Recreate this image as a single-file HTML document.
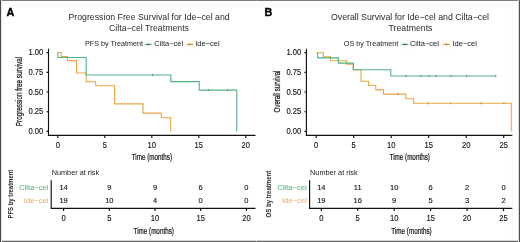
<!DOCTYPE html>
<html><head><meta charset="utf-8">
<style>
html,body{margin:0;padding:0;background:#fff;}
body{width:520px;height:242px;overflow:hidden;position:relative;}
svg{position:absolute;left:0;top:0;will-change:transform;}
text{font-family:"Liberation Sans",sans-serif;fill:#1a1a1a;}
.t{font-size:8.75px;fill:#2a2a2a;}
.lg{font-size:7.2px;fill:#222;}
.tk{font-size:8.2px;fill:#111;stroke:#111;stroke-width:0.12px;}
.axb{font-size:9.2px;fill:#111;stroke:#111;stroke-width:0.22px;}
.tb{font-size:8px;font-weight:bold;fill:#2a2a2a;}
.ll{font-size:7.5px;fill:#222;}
.nr{font-size:7.3px;fill:#222;}
.lb{font-size:10.8px;font-weight:bold;fill:#000;stroke:#000;stroke-width:0.35px;}
.num{font-size:7.9px;fill:#111;stroke:#111;stroke-width:0.12px;}
.rg{font-size:7.55px;fill:#6cbf8c;stroke:#6cbf8c;stroke-width:0.15px;}
.ro{font-size:7.55px;fill:#efb670;stroke:#efb670;stroke-width:0.15px;}
</style></head>
<body>
<svg width="520" height="242" viewBox="0 0 520 242">
<rect x="0" y="0" width="520" height="242" fill="#fff"/>
<text class="lb" x="6.6" y="15.5">A</text>
<text class="t" x="149.1" y="19.8" text-anchor="middle">Progression Free Survival for Ide−cel and</text>
<text class="t" x="149" y="30.8" text-anchor="middle">Cilta−cel Treatments</text>
<text class="lg" x="85" y="46.2">PFS by Treatment</text>
<rect x="144" y="40.2" width="8.6" height="8.2" fill="#f6fcf7"/>
<line x1="145.3" y1="44.4" x2="151.4" y2="44.4" stroke="#3a7a55" stroke-width="1"/>
<line x1="148.35" y1="43.4" x2="148.35" y2="45.4" stroke="#2a5a40" stroke-width="0.8"/>
<rect x="185.6" y="40.2" width="8.6" height="8.2" fill="#fffaf1"/>
<line x1="186.9" y1="44.4" x2="193" y2="44.4" stroke="#c08a48" stroke-width="1"/>
<line x1="189.95" y1="43.4" x2="189.95" y2="45.4" stroke="#8a6a40" stroke-width="0.8"/>
<text class="ll" x="154.2" y="46.3">Cilta−cel</text>
<text class="ll" x="195.2" y="46.3">Ide−cel</text>
<path d="M48.5,48.7 V135.4 H255.5 M46.5,52.6 H48.5 M46.5,72.3 H48.5 M46.5,92 H48.5 M46.5,111.7 H48.5 M46.5,131.4 H48.5 M57.8,135.4 V137.9 M104.8,135.4 V137.9 M151.8,135.4 V137.9 M198.8,135.4 V137.9 M245.8,135.4 V137.9" stroke="#111" stroke-width="1.15" fill="none"/>
<text class="tk" text-anchor="end" transform="translate(43.3,55.35) scale(0.93,1)">1.00</text>
<text class="tk" text-anchor="end" transform="translate(43.3,75.05) scale(0.93,1)">0.75</text>
<text class="tk" text-anchor="end" transform="translate(43.3,94.75) scale(0.93,1)">0.50</text>
<text class="tk" text-anchor="end" transform="translate(43.3,114.45) scale(0.93,1)">0.25</text>
<text class="tk" text-anchor="end" transform="translate(43.3,134.15) scale(0.93,1)">0.00</text>
<text class="tk" text-anchor="middle" transform="translate(57.8,147.9) scale(0.93,1)">0</text>
<text class="tk" text-anchor="middle" transform="translate(104.8,147.9) scale(0.93,1)">5</text>
<text class="tk" text-anchor="middle" transform="translate(151.8,147.9) scale(0.93,1)">10</text>
<text class="tk" text-anchor="middle" transform="translate(198.8,147.9) scale(0.93,1)">15</text>
<text class="tk" text-anchor="middle" transform="translate(245.8,147.9) scale(0.93,1)">20</text>
<text class="axb" text-anchor="middle" transform="translate(151.9,160.3) scale(0.686,1)">Time (months)</text>
<text class="axb" text-anchor="middle" transform="translate(22,91.5) rotate(-90) scale(0.685,1)">Progression free survival</text>
<g fill="none" stroke-width="1.1">
<path stroke="#E6A745" d="M57.8,52.5 H61.2 V56.6 H67.4 V60.6 H76.5 V73 H86.2 V81.7 H95.7 V85.7 H114.6 V103.9 H143 V113.1 H161.3 V117.7 H170.7 V131.4"/>
<path stroke="#52B283" d="M57.8,52.5 V57.5 H86.2 V75.0 H170.8 V81.6 H199.2 V90.1 H236.8 V131.4"/>
</g>
<path stroke="#4a8a68" stroke-width="0.8" d="M152.5,73.9 V76.1 M208.6,89 V91.2 M227.5,89 V91.2"/>
<text class="nr" x="51.7" y="175">Number at risk</text>
<path d="M51.2,180.3 V208.3 H255.5 M63.6,208.3 V210.9 M109.3,208.3 V210.9 M155,208.3 V210.9 M200.7,208.3 V210.9 M246.4,208.3 V210.9" stroke="#111" stroke-width="1.15" fill="none"/>
<text class="rg" x="48.4" y="189.5" text-anchor="end">Cilta−cel</text>
<text class="ro" x="48.4" y="203.1" text-anchor="end">Ide−cel</text>
<text class="num" text-anchor="middle" transform="translate(63.6,189.5) scale(0.95,1)">14</text>
<text class="num" text-anchor="middle" transform="translate(63.6,203.2) scale(0.95,1)">19</text>
<text class="tk" text-anchor="middle" transform="translate(63.6,220.9) scale(0.93,1)">0</text>
<text class="num" text-anchor="middle" transform="translate(109.3,189.5) scale(0.95,1)">9</text>
<text class="num" text-anchor="middle" transform="translate(109.3,203.2) scale(0.95,1)">10</text>
<text class="tk" text-anchor="middle" transform="translate(109.3,220.9) scale(0.93,1)">5</text>
<text class="num" text-anchor="middle" transform="translate(155,189.5) scale(0.95,1)">9</text>
<text class="num" text-anchor="middle" transform="translate(155,203.2) scale(0.95,1)">4</text>
<text class="tk" text-anchor="middle" transform="translate(155,220.9) scale(0.93,1)">10</text>
<text class="num" text-anchor="middle" transform="translate(200.7,189.5) scale(0.95,1)">6</text>
<text class="num" text-anchor="middle" transform="translate(200.7,203.2) scale(0.95,1)">0</text>
<text class="tk" text-anchor="middle" transform="translate(200.7,220.9) scale(0.93,1)">15</text>
<text class="num" text-anchor="middle" transform="translate(246.4,189.5) scale(0.95,1)">0</text>
<text class="num" text-anchor="middle" transform="translate(246.4,203.2) scale(0.95,1)">0</text>
<text class="tk" text-anchor="middle" transform="translate(246.4,220.9) scale(0.93,1)">20</text>
<text class="axb" text-anchor="middle" transform="translate(153.7,233.5) scale(0.686,1)">Time (months)</text>
<text class="tb" text-anchor="middle" transform="translate(12.9,194.1) rotate(-90) scale(0.742,1)">PFS by treatment</text>
<text class="lb" x="264.4" y="15.5">B</text>
<text class="t" x="410" y="19.8" text-anchor="middle">Overall Survival for Ide−cel and Cilta−cel</text>
<text class="t" x="410.5" y="30.8" text-anchor="middle">Treatments</text>
<text class="lg" x="343.8" y="46.2">OS by Treatment</text>
<rect x="400.5" y="40.2" width="8.6" height="8.2" fill="#f6fcf7"/>
<line x1="401.8" y1="44.4" x2="407.9" y2="44.4" stroke="#3a7a55" stroke-width="1"/>
<line x1="404.85" y1="43.4" x2="404.85" y2="45.4" stroke="#2a5a40" stroke-width="0.8"/>
<rect x="442.2" y="40.2" width="8.6" height="8.2" fill="#fffaf1"/>
<line x1="443.5" y1="44.4" x2="449.6" y2="44.4" stroke="#c08a48" stroke-width="1"/>
<line x1="446.55" y1="43.4" x2="446.55" y2="45.4" stroke="#8a6a40" stroke-width="0.8"/>
<text class="ll" x="409.9" y="46.3">Cilta−cel</text>
<text class="ll" x="452.5" y="46.3">Ide−cel</text>
<path d="M306.4,48.7 V135.4 H513 M304.4,52.6 H306.4 M304.4,72.3 H306.4 M304.4,92 H306.4 M304.4,111.7 H306.4 M304.4,131.4 H306.4 M316.2,135.4 V137.9 M353.7,135.4 V137.9 M391.2,135.4 V137.9 M428.7,135.4 V137.9 M466.2,135.4 V137.9 M503.7,135.4 V137.9" stroke="#111" stroke-width="1.15" fill="none"/>
<text class="tk" text-anchor="end" transform="translate(301.2,55.35) scale(0.93,1)">1.00</text>
<text class="tk" text-anchor="end" transform="translate(301.2,75.05) scale(0.93,1)">0.75</text>
<text class="tk" text-anchor="end" transform="translate(301.2,94.75) scale(0.93,1)">0.50</text>
<text class="tk" text-anchor="end" transform="translate(301.2,114.45) scale(0.93,1)">0.25</text>
<text class="tk" text-anchor="end" transform="translate(301.2,134.15) scale(0.93,1)">0.00</text>
<text class="tk" text-anchor="middle" transform="translate(316.2,147.9) scale(0.93,1)">0</text>
<text class="tk" text-anchor="middle" transform="translate(353.7,147.9) scale(0.93,1)">5</text>
<text class="tk" text-anchor="middle" transform="translate(391.2,147.9) scale(0.93,1)">10</text>
<text class="tk" text-anchor="middle" transform="translate(428.7,147.9) scale(0.93,1)">15</text>
<text class="tk" text-anchor="middle" transform="translate(466.2,147.9) scale(0.93,1)">20</text>
<text class="tk" text-anchor="middle" transform="translate(503.7,147.9) scale(0.93,1)">25</text>
<text class="axb" text-anchor="middle" transform="translate(409.7,160.3) scale(0.686,1)">Time (months)</text>
<text class="axb" text-anchor="middle" transform="translate(279.8,91.5) rotate(-90) scale(0.667,1)">Overall survival</text>
<g fill="none" stroke-width="1.1">
<path stroke="#E6A745" d="M316.2,52.7 H323.3 V56.9 H330.5 V60.8 H346.6 V64.1 H353.3 V69.8 H361 V81.2 H368.6 V85.5 H375.8 V89.9 H383.4 V94.1 H405.9 V98.7 H413.6 V103.3 H511.3 V131.4"/>
<path stroke="#52B283" d="M317.7,52.7 V57.9 H338.4 V63.1 H353.3 V69.8 H390.8 V76.0 H495.8"/>
</g>
<path stroke="#4a8a68" stroke-width="0.8" d="M405.8,74.9 V77.1 M420.8,74.9 V77.1 M428.9,74.9 V77.1 M435.8,74.9 V77.1 M450.8,74.9 V77.1 M466.5,74.9 V77.1 M495.8,74.9 V77.1"/>
<path stroke="#b08040" stroke-width="0.8" d="M398,92.9 V95.1 M428.3,102.2 V104.4 M450.6,102.2 V104.4 M481,102.2 V104.4 M503.9,102.2 V104.4"/>
<text class="nr" x="310.1" y="175">Number at risk</text>
<path d="M309.6,180.3 V208.3 H513 M321.3,208.3 V210.9 M357.74,208.3 V210.9 M394.18,208.3 V210.9 M430.62,208.3 V210.9 M467.06,208.3 V210.9 M503.5,208.3 V210.9" stroke="#111" stroke-width="1.15" fill="none"/>
<text class="rg" x="306.6" y="189.5" text-anchor="end">Cilta−cel</text>
<text class="ro" x="306.6" y="203.1" text-anchor="end">Ide−cel</text>
<text class="num" text-anchor="middle" transform="translate(321.3,189.5) scale(0.95,1)">14</text>
<text class="num" text-anchor="middle" transform="translate(321.3,203.2) scale(0.95,1)">19</text>
<text class="tk" text-anchor="middle" transform="translate(321.3,220.9) scale(0.93,1)">0</text>
<text class="num" text-anchor="middle" transform="translate(357.74,189.5) scale(0.95,1)">11</text>
<text class="num" text-anchor="middle" transform="translate(357.74,203.2) scale(0.95,1)">16</text>
<text class="tk" text-anchor="middle" transform="translate(357.74,220.9) scale(0.93,1)">5</text>
<text class="num" text-anchor="middle" transform="translate(394.18,189.5) scale(0.95,1)">10</text>
<text class="num" text-anchor="middle" transform="translate(394.18,203.2) scale(0.95,1)">9</text>
<text class="tk" text-anchor="middle" transform="translate(394.18,220.9) scale(0.93,1)">10</text>
<text class="num" text-anchor="middle" transform="translate(430.62,189.5) scale(0.95,1)">6</text>
<text class="num" text-anchor="middle" transform="translate(430.62,203.2) scale(0.95,1)">5</text>
<text class="tk" text-anchor="middle" transform="translate(430.62,220.9) scale(0.93,1)">15</text>
<text class="num" text-anchor="middle" transform="translate(467.06,189.5) scale(0.95,1)">2</text>
<text class="num" text-anchor="middle" transform="translate(467.06,203.2) scale(0.95,1)">3</text>
<text class="tk" text-anchor="middle" transform="translate(467.06,220.9) scale(0.93,1)">20</text>
<text class="num" text-anchor="middle" transform="translate(503.5,189.5) scale(0.95,1)">0</text>
<text class="num" text-anchor="middle" transform="translate(503.5,203.2) scale(0.95,1)">2</text>
<text class="tk" text-anchor="middle" transform="translate(503.5,220.9) scale(0.93,1)">25</text>
<text class="axb" text-anchor="middle" transform="translate(411.5,233.5) scale(0.686,1)">Time (months)</text>
<text class="tb" text-anchor="middle" transform="translate(271.2,194.1) rotate(-90) scale(0.756,1)">OS by treatment</text>
<line x1="512.4" y1="0" x2="512.4" y2="242" stroke="#f2f2f2" stroke-width="0.8"/>
<line x1="0" y1="0.5" x2="520" y2="0.5" stroke="#7a7a7a" stroke-width="1"/>
<line x1="0" y1="240.5" x2="520" y2="240.5" stroke="#d4d4d4" stroke-width="1"/>
<line x1="0" y1="241.5" x2="520" y2="241.5" stroke="#666" stroke-width="1"/>
<line x1="1.5" y1="0" x2="1.5" y2="242" stroke="#e4e4e4" stroke-width="1"/>
<line x1="0.5" y1="0" x2="0.5" y2="242" stroke="#4a4a4a" stroke-width="1"/>
<line x1="518.5" y1="0" x2="518.5" y2="242" stroke="#dcdcdc" stroke-width="1"/>
<line x1="519.5" y1="0" x2="519.5" y2="242" stroke="#505050" stroke-width="1"/>
</svg>
</body></html>
